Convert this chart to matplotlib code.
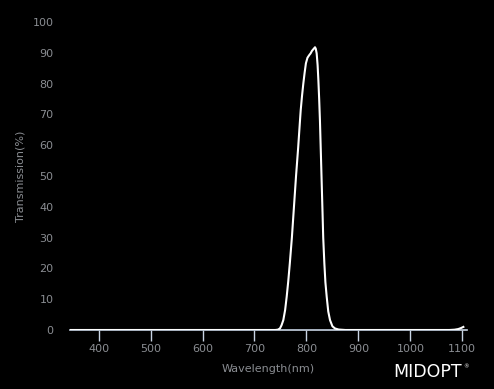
import matplotlib.pyplot as plt
import numpy as np

# Data
wavelength = [345, 700, 740, 745, 749, 752, 755.5, 759, 762, 765, 768, 772,
              776, 780, 784, 787.6, 789, 791.5, 794, 796.5, 799, 802, 805.6,
              808, 810.5, 813, 816.5, 818, 819.7, 821.5, 823, 824.5, 826,
              827.5, 829, 831, 832.3, 834.5, 836.5, 839, 842, 845.4, 850,
              855, 862, 875, 1000, 1075, 1085, 1092, 1097, 1102]
transmission = [0, 0, 0, 0.1, 0.5, 1.5, 3.2, 6.5, 10.8, 15.8, 21.6, 30,
                40, 50, 59, 68, 71.4, 76, 80, 83.5, 86.6, 88.4, 89.3,
                89.8, 90.6, 91.1, 91.8, 91.3, 89.8, 86, 81, 75, 68,
                59, 50, 38, 30, 21.6, 15.5, 10.8, 6, 3.2, 1.2,
                0.5, 0.15, 0, 0, 0, 0.1, 0.3, 0.6, 1.0]
xticks = [400, 500, 600, 700, 800, 900, 1000, 1100]
yticks = [0, 10, 20, 30, 40, 50, 60, 70, 80, 90, 100]

W, H = 494, 389
fig = plt.figure(figsize=(W / 100, H / 100), dpi=100, facecolor='black')
ax = fig.add_axes([70 / W, (H - 330) / H, 397 / W, 308 / H], facecolor='black')

ax.plot(wavelength, transmission, color='white', linewidth=1.5,
        solid_joinstyle='round')

ax.set_xlim(345, 1109)
ax.set_ylim(0, 100)
ax.set_xticks(xticks)
ax.set_yticks(yticks)

for side in ['top', 'right', 'left']:
    ax.spines[side].set_visible(False)
ax.spines['bottom'].set_color('#c8d4e4')
ax.spines['bottom'].set_linewidth(1.2)
ax.spines['bottom'].set_zorder(1)

label_color = '#8a8d92'
ax.tick_params(axis='x', colors='#c8d4e4', labelcolor=label_color,
               length=8, width=1, direction='out', labelsize=8, pad=2)
ax.tick_params(axis='y', length=0, labelcolor=label_color, labelsize=8, pad=12)

ax.set_xlabel('Wavelength(nm)', color=label_color, fontsize=8, labelpad=7)
ax.set_ylabel('Transmission(%)', color=label_color, fontsize=8)
ax.yaxis.set_label_coords((20 - 70) / 397, 0.5)
ax.yaxis.label.set_va('center')

# logo
fig.text(393 / W, (H - 377) / H, 'MIDOPT', color='white', fontsize=12.5,
         ha='left', va='baseline')
fig.text(463 / W, (H - 368) / H, '®', color='white', fontsize=4,
         ha='left', va='baseline')

fig.savefig('out.png', dpi=100, facecolor='black')
